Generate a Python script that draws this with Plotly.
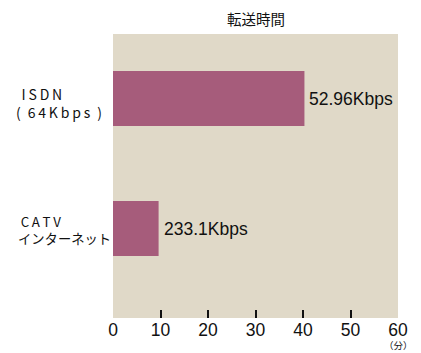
import plotly.graph_objects as go

# Transfer time per connection type (minutes)
categories = ["CATV", "ISDN"]
label_lines = [["\u2009C\u2009A\u2009T\u2009V", "インターネット"],
               ["\u2009\u2009I\u2009S\u2009D\u2009N",
                "(\u20026\u20094\u2009K\u2009b\u2009p\u2009s\u2002)"]]
minutes = [9.6, 40.3]
speed_labels = ["233.1Kbps", "52.96Kbps"]
x_ticks = [0, 10, 20, 30, 40, 50, 60]

BAR = "#A65C7B"
BG = "#E0D9C8"
FONT = "Noto Sans CJK JP"

fig = go.Figure()
fig.add_trace(go.Bar(
    y=list(range(len(categories))),
    x=minutes,
    orientation="h",
    width=0.423,
    marker=dict(color=BAR, line=dict(width=0)),
    hoverinfo="skip",
))

annotations = []
for i, (v, lab) in enumerate(zip(minutes, speed_labels)):
    annotations.append(dict(
        x=v, y=i, xref="x", yref="y", text=lab, showarrow=False,
        xanchor="left", yanchor="middle", xshift=3,
        font=dict(family="Liberation Sans", size=17.5, color="#111"),
    ))

# two-line category labels on the left
label_style = {0: (16, -1.5, 13.3), 1: (14, -4.5, 14)}
for i, lines in enumerate(label_lines):
    px, dy, fs = label_style[i]
    annotations.append(dict(
        x=(px - 113) / 285, y=i, xref="paper", yref="y", text="<br>".join(lines),
        showarrow=False, xanchor="left", yanchor="middle", yshift=dy, align="left",
        font=dict(family=FONT, size=fs, color="#111"),
    ))

annotations.append(dict(
    x=0.5, y=1, xref="paper", yref="paper", yshift=16, text="転送時間",
    showarrow=False, xanchor="center", yanchor="middle",
    font=dict(family=FONT, size=14.5, color="#111"),
))
annotations.append(dict(
    x=1, y=0, xref="paper", yref="paper", yshift=-35, xshift=0, text="（分）",
    showarrow=False, xanchor="center", yanchor="bottom", borderpad=0,
    font=dict(family=FONT, size=9.5, color="#111"),
))

fig.update_layout(
    width=421, height=353,
    margin=dict(l=113, r=23, t=34, b=35),
    paper_bgcolor="white",
    plot_bgcolor=BG,
    showlegend=False,
    annotations=annotations,
    xaxis=dict(
        range=[0, 60], tickvals=x_ticks, ticktext=[str(t) for t in x_ticks],
        showgrid=False, zeroline=False, showline=False,
        ticks="inside", ticklen=8, tickwidth=2, tickcolor="#111",
        tickfont=dict(family="Liberation Sans", size=17.5, color="#111"),
        ticklabelstandoff=-1,
        fixedrange=True,
    ),
    yaxis=dict(
        range=[-0.688, 1.496], showticklabels=False, showgrid=False,
        zeroline=False, showline=False, ticks="", fixedrange=True,
    ),
)

fig.write_html("out.html")
